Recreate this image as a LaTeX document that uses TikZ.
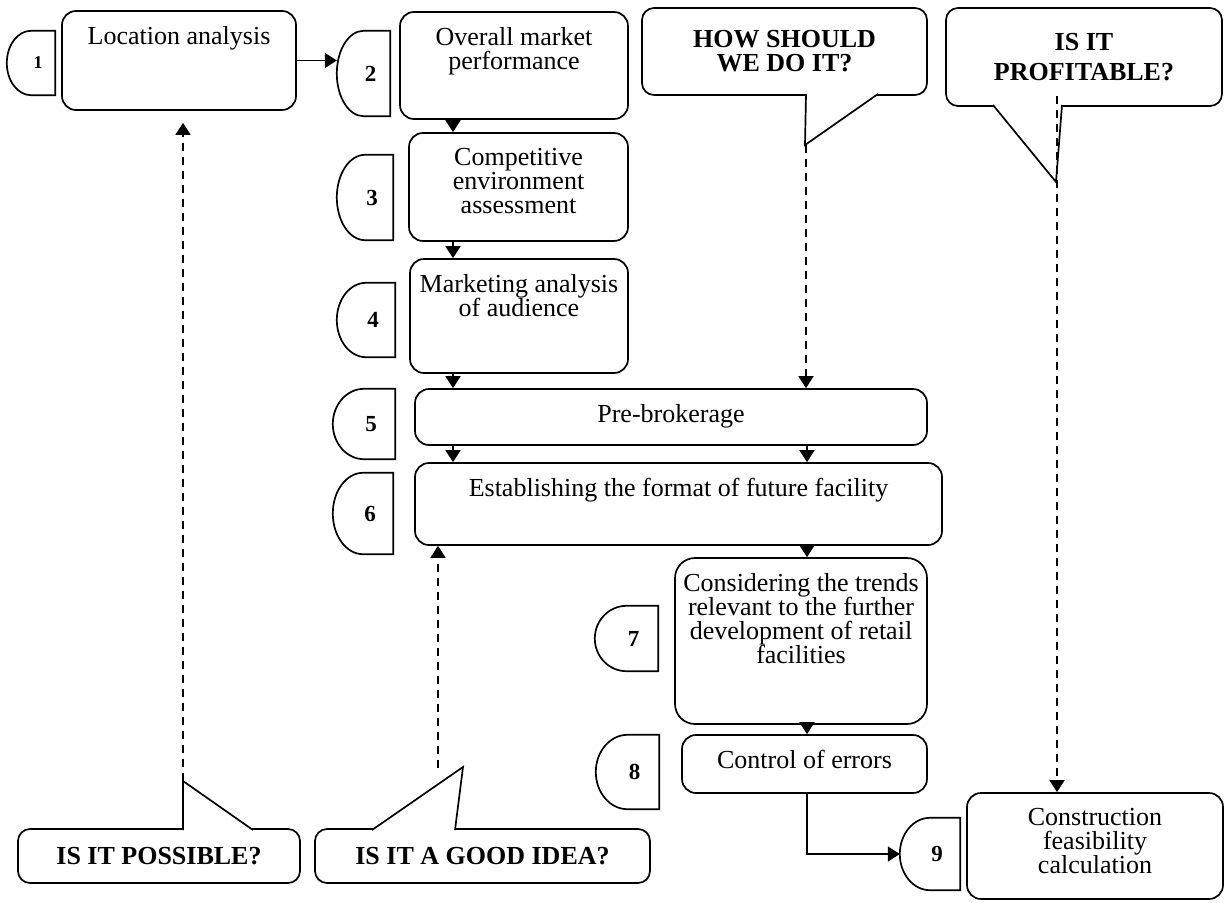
\documentclass[tikz,border=0pt]{standalone}
\usepackage{fontspec}
\setmainfont{Liberation Serif}
\usetikzlibrary{arrows.meta,calc}

\begin{document}
\begin{tikzpicture}[
    x=1pt, y=-1pt,
    txt/.style={font=\fontsize{26pt}{24pt}\selectfont},
    stepbox/.style={rectangle, draw, rounded corners=14pt, line width=1.7pt, inner sep=0pt},
    boxtext/.style={anchor=north, align=center, inner sep=0pt, yshift=-16pt, txt},
    tabbox/.style={rectangle, inner sep=0pt},
    tabnum/.style={font=\fontsize{23pt}{23pt}\selectfont\bfseries, xshift=7pt},
    tabline/.style={line width=1.7pt},
    callout/.style={rectangle, draw, fill=white, rounded corners=12pt, line width=1.7pt, align=center, font=\fontsize{26pt}{24pt}\selectfont\bfseries},
    tail/.style={draw, fill=white, line width=1.7pt, line join=miter},
    arrow/.style={line width=1.7pt, -{Triangle[length=12pt,width=15pt]}},
    dasharrow/.style={arrow, dash pattern=on 8pt off 6pt}
]
    \useasboundingbox (0,0) rectangle (1225,902);

    % Steps
    \node [tabbox, minimum width=48pt, minimum height=64pt, label={[tabnum, font=\fontsize{18pt}{18pt}\selectfont\bfseries]center:1}] (t1) at (31,63) {};
    \node [stepbox, minimum width=234pt, minimum height=99pt, label={[boxtext]north:Location analysis}] (loc) at (179,60.5) {};
    \node [tabbox, minimum width=53pt, minimum height=85pt, label={[tabnum]center:2}] (t2) at (363.5,73.5) {};
    \node [stepbox, minimum width=228pt, minimum height=107pt, label={[boxtext]north:{Overall market\\performance}}] (mkt) at (514,65.5) {};
    \node [tabbox, minimum width=56pt, minimum height=85pt, label={[tabnum]center:3}] (t3) at (365,197.5) {};
    \node [stepbox, minimum width=219pt, minimum height=108pt, label={[boxtext]north:{Competitive\\environment\\assessment}}] (comp) at (518.5,187) {};
    \node [tabbox, minimum width=58pt, minimum height=74pt, label={[tabnum]center:4}] (t4) at (366,320) {};
    \node [stepbox, minimum width=218pt, minimum height=114pt, label={[boxtext]north:{Marketing analysis\\of audience}}] (aud) at (519,316) {};
    \node [tabbox, minimum width=62pt, minimum height=70pt, label={[tabnum]center:5}] (t5) at (364,424) {};
    \node [stepbox, minimum width=512pt, minimum height=56pt, label={[boxtext]north:Pre-brokerage}] (pre) at (671,417) {};
    \node [tabbox, minimum width=60pt, minimum height=81pt, label={[tabnum]center:6}] (t6) at (363,513.5) {};
    \node [stepbox, minimum width=527pt, minimum height=82pt, label={[boxtext]north:Establishing the format of future facility}] (fmt) at (678.5,504) {};
    \node [tabbox, minimum width=63pt, minimum height=65pt, label={[tabnum]center:7}] (t7) at (626.5,638.5) {};
    \node [stepbox, rounded corners=20pt, minimum width=252pt, minimum height=166pt, label={[boxtext]north:{Considering the trends\\relevant to the further\\development of retail\\facilities}}] (trend) at (801,641) {};
    \node [tabbox, minimum width=63pt, minimum height=74pt, label={[tabnum]center:8}] (t8) at (627.5,772) {};
    \node [stepbox, minimum width=245pt, minimum height=58pt, label={[boxtext]north:Control of errors}] (err) at (804.5,764) {};
    \node [tabbox, minimum width=60pt, minimum height=72pt, label={[tabnum]center:9}] (t9) at (930,854) {};
    \node [stepbox, minimum width=256pt, minimum height=106pt, label={[boxtext]north:{Construction\\feasibility\\calculation}}] (feas) at (1095,846) {};

    % Number tabs
    \foreach \t in {t1,t2,t3,t4,t5,t6,t7,t8,t9}
        \draw [tabline] let \p1=(\t.north east), \p2=(\t.south west) in
            (\p1) -- ({(\x1+\x2)/2},\y1)
            arc [start angle=90, end angle=270, x radius={(\x1-\x2)/2}, y radius={(\y1-\y2)/2}]
            -- (\x1,\y2) -- cycle;

    % Arrows
    \coordinate (colA) at (453,0);
    \coordinate (colB) at (807,0);
    \draw [arrow] (loc.east) -- (loc.east -| t2.west);
    \draw [arrow] (colA |- mkt.south) -- (colA |- comp.north);
    \draw [arrow] (colA |- comp.south) -- (colA |- aud.north);
    \draw [arrow] (colA |- aud.south) -- (colA |- pre.north);
    \draw [arrow] (colA |- pre.south) -- (colA |- fmt.north);
    \draw [arrow] (colB |- pre.south) -- (colB |- fmt.north);
    \draw [arrow] (colB |- fmt.south) -- (colB |- trend.north);
    \draw [arrow] (colB |- trend.south) -- (colB |- err.north);
    \draw [arrow] (colB |- err.south) |- (t9.west);

    % Questions
    \node [callout, minimum width=285pt, minimum height=87pt] (how) at (784.5,51.5) {HOW SHOULD\\WE DO IT?};
    \draw [tail] (806,94) -- (805,145) -- (878,94);
    \node [callout, minimum width=276pt, minimum height=98pt] (prof) at (1084,57) {IS IT\\[6pt]PROFITABLE?};
    \draw [tail] (993,105) -- (1056,182) -- (1062,105);
    \node [callout, minimum width=282pt, minimum height=54pt] (poss) at (159,856) {IS IT POSSIBLE?};
    \draw [tail] (183,830) -- (183,781) -- (253,830);
    \node [callout, minimum width=335pt, minimum height=54pt] (good) at (482.5,856) {IS IT A GOOD IDEA?};
    \draw [tail] (372,830) -- (463,767) -- (455,830);

    % Question links
    \coordinate (possup) at (183,781);
    \coordinate (goodup) at (438,768);
    \coordinate (howtip) at (806,145);
    \coordinate (proftip) at (1057,96);
    \draw [dasharrow, shorten >=12pt] (possup) -- (possup |- loc.south);
    \draw [dasharrow] (goodup) -- (goodup |- fmt.south);
    \draw [dasharrow] (howtip) -- (howtip |- pre.north);
    \draw [dasharrow] (proftip) -- (proftip |- feas.north);
\end{tikzpicture}
\end{document}
